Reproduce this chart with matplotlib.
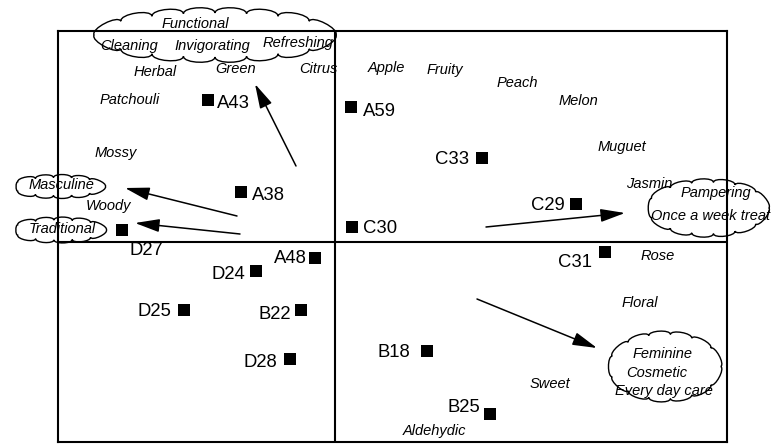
import numpy as np
import matplotlib
matplotlib.use("Agg")
import matplotlib.pyplot as plt
from matplotlib.path import Path
from matplotlib.patches import PathPatch, FancyArrowPatch

# ---- perceptual map data (map units) ----
products = ["A43", "A59", "C33", "A38", "C29", "C30", "D27", "A48",
            "D24", "C31", "D25", "B22", "D28", "B18", "B25"]
prod_x = [-1.275, 0.16, 1.465, -0.94, 2.41, 0.17, -2.135, -0.20,
          -0.79, 2.70, -1.51, -0.34, -0.455, 0.915, 1.55]
prod_y = [1.415, 1.35, 0.84, 0.50, 0.38, 0.145, 0.12, -0.16,
          -0.29, -0.10, -0.68, -0.68, -1.17, -1.09, -1.72]

attributes = ["Herbal", "Green", "Citrus", "Patchouli", "Apple", "Fruity",
              "Peach", "Melon", "Muguet", "Jasmin", "Mossy", "Woody",
              "Rose", "Floral", "Sweet", "Aldehydic"]
attr_x = [-1.80, -0.99, -0.17, -2.05, 0.51, 1.10, 1.82, 2.43, 2.865,
          3.14, -2.19, -2.27, 3.23, 3.05, 2.15, 0.99]
attr_y = [1.66, 1.69, 1.69, 1.38, 1.70, 1.68, 1.55, 1.37, 0.91,
          0.54, 0.85, 0.32, -0.18, -0.65, -1.46, -1.93]

# benefit clouds: centre, size, and the words inside them
cloud_cx = [-1.20, -2.77, -2.765, 3.73, 3.30]
cloud_cy = [2.07, 0.555, 0.12, 0.34, -1.245]
cloud_w = [2.54, 1.02, 1.03, 1.30, 1.20]
cloud_h = [0.56, 0.25, 0.27, 0.60, 0.73]
cloud_bumps = [16, 11, 11, 13, 13]
cloud_words = ["Functional", "Cleaning", "Invigorating", "Refreshing",
               "Masculine", "Traditional", "Pampering", "Once a week treat",
               "Feminine", "Cosmetic", "Every day care"]
cloud_word_x = [-1.395, -2.06, -1.23, -0.37, -2.74, -2.73, 3.81, 3.76,
                3.28, 3.22, 3.29]
cloud_word_y = [2.14, 1.92, 1.92, 1.95, 0.53, 0.09, 0.45, 0.22,
                -1.16, -1.35, -1.53]

# direction arrows (tail -> head)
arrow_x0 = [-0.39, -0.98, -0.95, 1.51, 1.42]
arrow_y0 = [0.76, 0.26, 0.08, 0.15, -0.57]
arrow_x1 = [-0.80, -2.10, -2.00, 2.90, 2.62]
arrow_y1 = [1.58, 0.54, 0.19, 0.29, -1.06]

# label placement around each product square (pixels: dx, baseline dy down)
label_offsets = {
    "A43": (9.5, 7.5, "left"), "A59": (12, 9, "left"),
    "C33": (-12.5, 6, "right"), "A38": (11, 8, "left"),
    "C29": (-11, 6, "right"), "C30": (11, 5.5, "left"),
    "D27": (24.5, 25, "center"), "A48": (-8, 5, "right"),
    "D24": (-11, 8, "right"), "C31": (-13, 15, "right"),
    "D25": (-13, 6, "right"), "B22": (-10, 9, "right"),
    "D28": (-12.5, 8, "right"), "B18": (-16.5, 6, "right"),
    "B25": (-10, -2, "right"),
}

plt.rcParams["font.family"] = ["Liberation Sans", "DejaVu Sans"]

W, H = 774, 444
fig = plt.figure(figsize=(W / 100, H / 100), dpi=100)
left, right, top, bottom = 58, 727, 31, 442
ax = fig.add_axes([left / W, (H - bottom) / H, (right - left) / W, (bottom - top) / H])
ax.set_xlim(-2.77, 3.92)
ax.set_ylim(-2.00, 2.11)
ax.set_xticks([])
ax.set_yticks([])
for sp in ax.spines.values():
    sp.set_linewidth(1.5)
    sp.set_color("black")
ax.axhline(0, color="black", lw=1.5, zorder=1)
ax.axvline(0, color="black", lw=1.5, zorder=1)


def _ellipse_points(cx, cy, a, b, n):
    t = np.linspace(0, 2 * np.pi, 2000)
    ex = cx + a * np.cos(t)
    ey = cy + b * np.sin(t)
    seg = np.hypot(np.diff(ex), np.diff(ey))
    s = np.concatenate([[0], np.cumsum(seg)])
    targets = np.linspace(0, s[-1], n + 1)
    return np.interp(targets, s, ex), np.interp(targets, s, ey), s[-1]


def cloud_path(cx, cy, w, h, n, bulge=0.24):
    """Scalloped outline whose outer extent is roughly w x h."""
    _, _, perim = _ellipse_points(cx, cy, w / 2, h / 2, n)
    bump = 0.75 * bulge * perim / n
    a = max(w / 2 - bump, 0.05)
    b = max(h / 2 - bump, 0.03)
    px, py, _ = _ellipse_points(cx, cy, a, b, n)
    verts = [(px[0], py[0])]
    codes = [Path.MOVETO]
    for k in range(n):
        x0, y0, x1, y1 = px[k], py[k], px[k + 1], py[k + 1]
        mx, my = (x0 + x1) / 2, (y0 + y1) / 2
        dx, dy = x1 - x0, y1 - y0
        L = np.hypot(dx, dy)
        nx, ny = dy / L, -dx / L
        if (mx - cx) * nx + (my - cy) * ny < 0:
            nx, ny = -nx, -ny
        c1 = (x0 + nx * L * bulge, y0 + ny * L * bulge)
        c2 = (x1 + nx * L * bulge, y1 + ny * L * bulge)
        verts += [c1, c2, (x1, y1)]
        codes += [Path.CURVE4, Path.CURVE4, Path.CURVE4]
    return Path(verts, codes)


for cx, cy, w, h, n in zip(cloud_cx, cloud_cy, cloud_w, cloud_h, cloud_bumps):
    patch = PathPatch(cloud_path(cx, cy, w, h, n), facecolor="none",
                      edgecolor="black", lw=1.0, clip_on=False, zorder=3)
    ax.add_patch(patch)

for word, x, y in zip(cloud_words, cloud_word_x, cloud_word_y):
    ax.text(x, y, word, ha="center", va="baseline", style="italic",
            fontsize=10.5, clip_on=False, zorder=4)

for word, x, y in zip(attributes, attr_x, attr_y):
    ax.text(x, y, word, ha="center", va="baseline", style="italic",
            fontsize=10.5, zorder=4)

for x0, y0, x1, y1 in zip(arrow_x0, arrow_y0, arrow_x1, arrow_y1):
    arr = FancyArrowPatch((x0, y0), (x1, y1),
                          arrowstyle="-|>,head_length=1.5,head_width=0.4",
                          mutation_scale=10, lw=1.1, color="black",
                          shrinkA=0, shrinkB=0, zorder=5)
    ax.add_patch(arr)

ax.scatter(prod_x, prod_y, marker="s", s=68, color="black", zorder=6,
           linewidths=0)

for name, x, y in zip(products, prod_x, prod_y):
    dx, dy, ha = label_offsets[name]
    ax.annotate(name, (x, y), xytext=(dx * 0.72, -dy * 0.72),
                textcoords="offset points", ha=ha, va="baseline",
                fontsize=13.3, zorder=7)

fig.savefig("out.png", dpi=100)
